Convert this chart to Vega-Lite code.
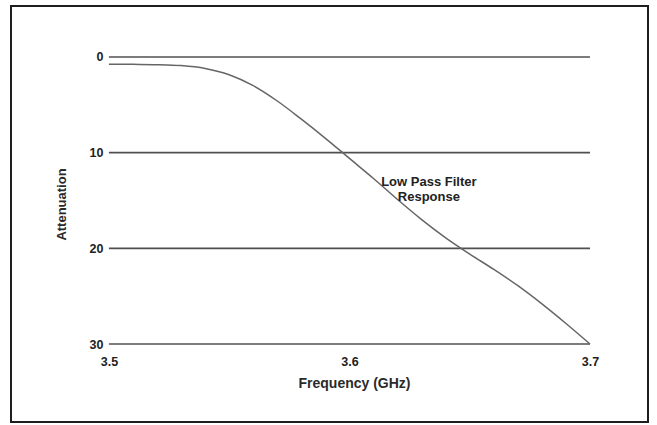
{
  "$schema": "https://vega.github.io/schema/vega-lite/v6.json",
  "width": 637,
  "height": 416,
  "autosize": {"type": "none"},
  "padding": {"left": 11, "top": 6, "right": 9, "bottom": 3},
  "background": "white",
  "config": {
    "view": {"stroke": "#1e1e1e", "strokeWidth": 2},
    "font": "Liberation Sans"
  },
  "datasets": {
    "grid": [
      {"attenuation": 0},
      {"attenuation": 10},
      {"attenuation": 20},
      {"attenuation": 30}
    ],
    "curve": [
      {"frequency": 3.5, "attenuation": 0.75},
      {"frequency": 3.51, "attenuation": 0.77},
      {"frequency": 3.52, "attenuation": 0.8},
      {"frequency": 3.53, "attenuation": 0.9},
      {"frequency": 3.54, "attenuation": 1.2},
      {"frequency": 3.55, "attenuation": 1.85},
      {"frequency": 3.56, "attenuation": 3.0},
      {"frequency": 3.57, "attenuation": 4.6},
      {"frequency": 3.58, "attenuation": 6.5},
      {"frequency": 3.59, "attenuation": 8.5},
      {"frequency": 3.6, "attenuation": 10.6},
      {"frequency": 3.61, "attenuation": 12.7},
      {"frequency": 3.62, "attenuation": 14.9},
      {"frequency": 3.63, "attenuation": 17.0},
      {"frequency": 3.64, "attenuation": 18.9},
      {"frequency": 3.65, "attenuation": 20.6},
      {"frequency": 3.66, "attenuation": 22.2},
      {"frequency": 3.67, "attenuation": 23.9},
      {"frequency": 3.68, "attenuation": 25.8},
      {"frequency": 3.69, "attenuation": 27.85},
      {"frequency": 3.7, "attenuation": 30.0}
    ],
    "notes": [
      {"frequency": 3.633, "attenuation": 13.03, "label": "Low Pass Filter"},
      {"frequency": 3.633, "attenuation": 14.67, "label": "Response"}
    ]
  },
  "layer": [
    {
      "data": {"name": "grid"},
      "mark": {"type": "rule", "color": "#505050", "strokeWidth": 1.6},
      "encoding": {
        "y": {
          "field": "attenuation",
          "type": "quantitative",
          "title": "Attenuation",
          "scale": {"domain": [-5.33, 38.15], "reverse": true, "nice": false, "zero": false}
        },
        "x": {
          "datum": 3.5,
          "type": "quantitative",
          "scale": {"domain": [3.4593, 3.7241], "nice": false, "zero": false}
        },
        "x2": {"datum": 3.7}
      }
    },
    {
      "data": {"name": "curve"},
      "mark": {"type": "line", "interpolate": "monotone", "color": "#666666", "strokeWidth": 1.5},
      "encoding": {
        "x": {
          "field": "frequency",
          "type": "quantitative",
          "title": "Frequency (GHz)",
          "scale": {"domain": [3.4593, 3.7241], "nice": false, "zero": false},
          "axis": {
            "values": [3.5, 3.6, 3.7],
            "format": ".1f",
            "offset": -78,
            "domain": false,
            "ticks": false,
            "grid": false,
            "labelPadding": 11,
            "labelFontSize": 12.5,
            "labelFontWeight": "bold",
            "labelColor": "#222222",
            "titleFontSize": 14,
            "titleFontWeight": "bold",
            "titleColor": "#2a2a2a",
            "titleX": 343,
            "titleY": 32,
            "titleBaseline": "top",
            "titleAlign": "center"
          }
        },
        "y": {
          "field": "attenuation",
          "type": "quantitative",
          "title": "Attenuation",
          "scale": {"domain": [-5.33, 38.15], "reverse": true, "nice": false, "zero": false},
          "axis": {
            "values": [0, 10, 20, 30],
            "offset": -98,
            "domain": false,
            "ticks": false,
            "grid": false,
            "labelPadding": 6,
            "labelFontSize": 12.5,
            "labelFontWeight": "bold",
            "labelColor": "#222222",
            "titleFontSize": 13,
            "titleFontWeight": "bold",
            "titleColor": "#2a2a2a",
            "titleAngle": 270,
            "titleBaseline": "bottom",
            "titleAlign": "center",
            "titleX": -41,
            "titleY": 198
          }
        }
      }
    },
    {
      "data": {"name": "notes"},
      "mark": {"type": "text", "fontSize": 13, "fontWeight": "bold", "color": "#222222", "align": "center", "baseline": "middle"},
      "encoding": {
        "x": {"field": "frequency", "type": "quantitative", "title": "Frequency (GHz)", "scale": {"domain": [3.4593, 3.7241], "nice": false, "zero": false}},
        "y": {"field": "attenuation", "type": "quantitative", "title": "Attenuation", "scale": {"domain": [-5.33, 38.15], "reverse": true, "nice": false, "zero": false}},
        "text": {"field": "label", "type": "nominal"}
      }
    }
  ]
}
